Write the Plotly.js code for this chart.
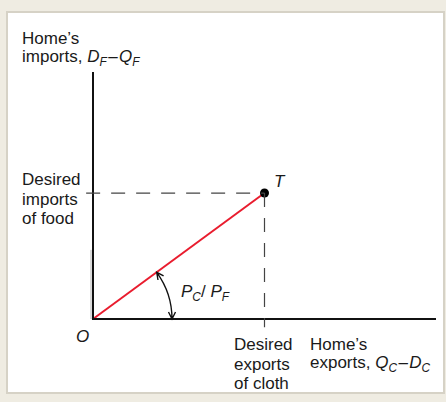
<!DOCTYPE html>
<html>
<head>
<meta charset="utf-8">
<script src="https://cdn.plot.ly/plotly-3.0.1.min.js"></script>
<style>
  html, body { margin: 0; padding: 0; background: #EFECE2; }
  #chart { width: 446px; height: 402px; }
</style>
</head>
<body>
<div id="chart"></div>
<script>
// Home's trade point T: desired exports of cloth vs. desired imports of food
const exportsCloth = [0, 5.0];   // Q_C - D_C along the trade line O -> T
const importsFood  = [0, 5.1];   // D_F - Q_F along the trade line O -> T
const axisMaxX = 10;
const axisMaxY = 10;

// text labels
const dash = "\u200A\u2013\u200A";
const yTitleLines   = ["Home\u2019s", "imports, <i>D<sub>F</sub></i>" + dash + "<i>Q<sub>F</sub></i>"];
const xTitleLines   = ["Home\u2019s", "exports, <i>Q<sub>C</sub></i>" + dash + "<i>D<sub>C</sub></i>"];
const importsLines  = ["Desired", "imports", "of food"];
const exportsLines  = ["Desired", "exports", "of cloth"];
const slopeLabel    = "<i>P<sub>C</sub></i>/ <i>P<sub>F</sub></i>";
const originLabel   = "<i>O</i>";
const pointLabel    = "<i>T</i>";

const W = 446, H = 402;
const M = { l: 60, r: 6, t: 60, b: 62 };
const plotW = W - M.l - M.r, plotH = H - M.t - M.b;
// page pixel -> paper fraction
const px = p => (p - M.l) / plotW;
const py = p => (H - M.b - p) / plotH;

const FONT = "Liberation Sans, Arial, Helvetica, sans-serif";
const fs = 17;
const ink = "#1a1a1a";

const Tx = exportsCloth[1], Ty = importsFood[1];

function label(text, x, baseline, extra) {
  return Object.assign({
    text: text, xref: "paper", yref: "paper",
    x: px(x), y: py(baseline - 5.5),
    xanchor: "left", yanchor: "middle", showarrow: false,
    font: { family: FONT, size: fs, color: ink }
  }, extra || {});
}

const annotations = [];
yTitleLines.forEach((t, i) => annotations.push(label(t, 20, 43.5 + i * 20)));
importsLines.forEach((t, i) => annotations.push(label(t, 20, 185 + i * 19.5)));
exportsLines.forEach((t, i) => annotations.push(label(t, 232, 350 + i * 19.5)));
xTitleLines.forEach((t, i) => annotations.push(label(t, 308, 350 + i * 19.5)));
annotations.push(label(slopeLabel, 179, 298));
annotations.push(label(originLabel, 82, 342, { xanchor: "center" }));
annotations.push(label(pointLabel, 280, 187, { xanchor: "center" }));

// angle arc between the trade line and the horizontal axis, in pixels from O
const arcPath =
  "M 65,39 L 63.7,46.7 L 70.6,43.1 " +
  "M 63.7,46.7 Q 79,25.8 79,0 " +
  "M 75.5,7 L 79,0 L 82.5,7";

const shapes = [
  // white panel
  { type: "rect", xref: "paper", yref: "paper", layer: "below",
    x0: px(7), x1: px(444), y0: py(393), y1: py(12),
    fillcolor: "#ffffff", line: { color: "#D6D2C6", width: 2 } },
  // faint edge beside the vertical axis
  { type: "line", xref: "x", yref: "y", xsizemode: "pixel", xanchor: 0,
    x0: -2, x1: -2, y0: 0, y1: 2.8,
    line: { color: "#b5b5b5", width: 1 } },
  // axes
  { type: "line", xref: "x", yref: "y", x0: 0, x1: 0, y0: -0.03, y1: axisMaxY,
    line: { color: "#111", width: 2 } },
  { type: "line", xref: "x", yref: "y", x0: -0.03, x1: axisMaxX, y0: 0, y1: 0,
    line: { color: "#111", width: 2 } },
  // dashed guides from T
  { type: "line", xref: "x", yref: "y", x0: -0.2, x1: Tx, y0: Ty, y1: Ty,
    line: { color: "#444", width: 1.2, dash: "14px,11px" } },
  { type: "line", xref: "x", yref: "y", x0: Tx, x1: Tx, y0: Ty, y1: -0.33,
    line: { color: "#444", width: 1.2, dash: "14px,11px" } },
  // angle arc
  { type: "path", xref: "x", yref: "y",
    xsizemode: "pixel", ysizemode: "pixel", xanchor: 0, yanchor: 0,
    path: arcPath, line: { color: "#111", width: 1.4 } }
];

const traces = [
  { x: exportsCloth, y: importsFood, mode: "lines", type: "scatter",
    line: { color: "#E91C2E", width: 2 }, hoverinfo: "skip" },
  { x: [Tx], y: [Ty], mode: "markers", type: "scatter",
    marker: { color: "#000", size: 9 }, hoverinfo: "skip" }
];

const layout = {
  width: W, height: H,
  margin: M,
  paper_bgcolor: "#EFECE2",
  plot_bgcolor: "rgba(0,0,0,0)",
  showlegend: false,
  xaxis: { visible: false, range: [(M.l - 93) / 34.3, (W - M.r - 93) / 34.3], fixedrange: true },
  yaxis: { visible: false, range: [(319 - (H - M.b)) / 24.7, (319 - M.t) / 24.7], fixedrange: true },
  shapes: shapes,
  annotations: annotations
};

Plotly.newPlot("chart", traces, layout, { displayModeBar: false });
</script>
</body>
</html>
